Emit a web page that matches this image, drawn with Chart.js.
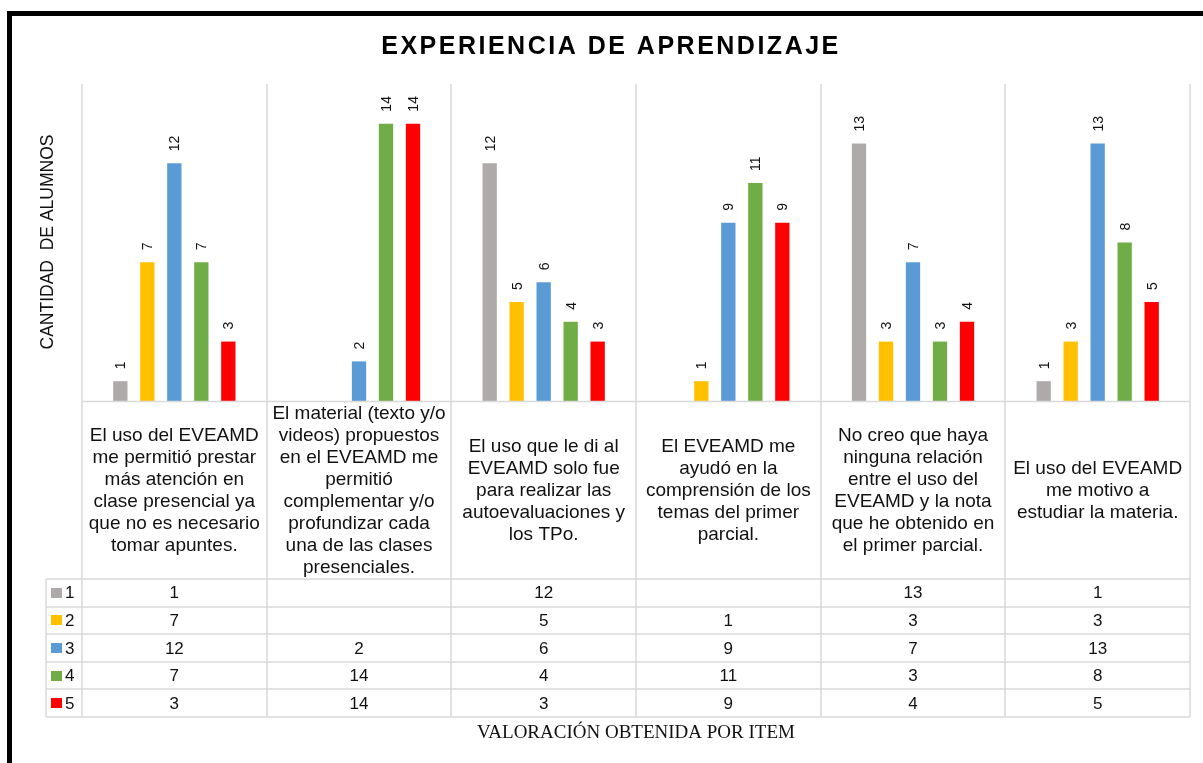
<!DOCTYPE html>
<html>
<head>
<meta charset="utf-8">
<script src="https://cdn.jsdelivr.net/npm/chart.js@4.4.0/dist/chart.umd.min.js"></script>
<style>
html,body{margin:0;padding:0;background:#ffffff;overflow:hidden}
#wrap{width:1203px;height:763px;position:relative}
canvas{display:block}
</style>
</head>
<body>
<div id="wrap"><canvas id="c" width="1203" height="763"></canvas></div>
<script>
// ---- DATA ----
const categories = [
  ["El uso del EVEAMD","me permitió prestar","más atención en","clase presencial ya","que no es necesario","tomar apuntes."],
  ["El material (texto y/o","videos) propuestos","en el EVEAMD me","permitió","complementar y/o","profundizar cada","una de las clases","presenciales."],
  ["El uso que le di al","EVEAMD solo fue","para realizar las","autoevaluaciones y","los TPo."],
  ["El EVEAMD me","ayudó en la","comprensión de los","temas del primer","parcial."],
  ["No creo que haya","ninguna relación","entre el uso del","EVEAMD y la nota","que he obtenido en","el primer parcial."],
  ["El uso del EVEAMD","me motivo a","estudiar la materia."]
];
const seriesNames = ["1","2","3","4","5"];
const serie1 = [1, null, 12, null, 13, 1];
const serie2 = [7, null, 5, 1, 3, 3];
const serie3 = [12, 2, 6, 9, 7, 13];
const serie4 = [7, 14, 4, 11, 3, 8];
const serie5 = [3, 14, 3, 9, 4, 5];
const chartTitle = "EXPERIENCIA DE APRENDIZAJE";
const yAxisTitle = "CANTIDAD  DE ALUMNOS";
const xAxisTitle = "VALORACIÓN OBTENIDA POR ITEM";
const yMin = 0, yMax = 16;

// ---- STYLES ----
const colors = ["#AEAAAA", "#FFC000", "#5B9BD5", "#70AD47", "#FF0000"];
const SANS = '"Liberation Sans", Arial, sans-serif';
const SERIF = '"Liberation Serif", "Times New Roman", serif';
const lineColor = "#d9d9d9";
const textColor = "#111111";

const allSeries = [serie1, serie2, serie3, serie4, serie5];

const decor = {
  id: 'decor',
  afterDraw(chart) {
    const ctx = chart.ctx;
    const xs = chart.scales.x;
    const ca = chart.chartArea;
    const n = categories.length;
    const step = xs.getPixelForValue(1) - xs.getPixelForValue(0);
    const bounds = [];
    for (let i = 0; i < n; i++) bounds.push(xs.getPixelForValue(i) - step / 2);
    bounds.push(xs.getPixelForValue(n - 1) + step / 2);

    const labelBottom = 579;
    const rowH = 27.6;
    const tableBottom = labelBottom + rowH * seriesNames.length;
    const legendLeft = 46;

    ctx.save();
    // grid / table lines
    ctx.strokeStyle = lineColor;
    ctx.lineWidth = 1.5;
    ctx.beginPath();
    bounds.forEach(b => {
      const x = Math.round(b);
      ctx.moveTo(x, ca.top);
      ctx.lineTo(x, tableBottom);
    });
    ctx.moveTo(legendLeft, labelBottom);
    ctx.lineTo(legendLeft, tableBottom);
    ctx.moveTo(bounds[0], Math.round(ca.bottom) + 0.5);
    ctx.lineTo(bounds[n], Math.round(ca.bottom) + 0.5);
    for (let r = 0; r <= seriesNames.length; r++) {
      const y = Math.round(labelBottom + r * rowH);
      ctx.moveTo(legendLeft, y);
      ctx.lineTo(bounds[n], y);
    }
    ctx.stroke();

    // category labels
    ctx.fillStyle = textColor;
    ctx.font = "19px " + SANS;
    ctx.textAlign = "center";
    ctx.textBaseline = "middle";
    const lh = 22;
    const midY = (ca.bottom + labelBottom) / 2;
    categories.forEach((lines, i) => {
      const cx = xs.getPixelForValue(i);
      const y0 = midY - (lines.length - 1) * lh / 2;
      lines.forEach((t, k) => ctx.fillText(t, cx, y0 + k * lh + 1));
    });

    // table values + legend keys
    ctx.font = "17px " + SANS;
    seriesNames.forEach((name, r) => {
      const cy = labelBottom + r * rowH + rowH / 2 + 1;
      ctx.fillStyle = colors[r];
      ctx.fillRect(51, Math.round(cy - 6), 11, 10);
      ctx.fillStyle = textColor;
      ctx.textAlign = "left";
      ctx.fillText(name, 65, cy);
      ctx.textAlign = "center";
      allSeries[r].forEach((v, i) => {
        if (v !== null && v !== undefined) ctx.fillText(String(v), xs.getPixelForValue(i), cy);
      });
    });

    // title
    ctx.fillStyle = "#000000";
    ctx.font = "bold 25px " + SANS;
    ctx.textAlign = "center";
    ctx.textBaseline = "alphabetic";
    try { ctx.letterSpacing = "2.5px"; } catch (e) {}
    ctx.fillText(chartTitle, 611, 54);
    try { ctx.letterSpacing = "0px"; } catch (e) {}

    // y axis title
    ctx.save();
    ctx.font = "18px " + SANS;
    ctx.fillStyle = textColor;
    const w = ctx.measureText(yAxisTitle).width;
    ctx.translate(48, 242);
    ctx.rotate(-Math.PI / 2);
    ctx.scale(215 / w, 1);
    ctx.textAlign = "center";
    ctx.textBaseline = "middle";
    ctx.fillText(yAxisTitle, 0, 0);
    ctx.restore();

    // x axis title
    ctx.font = "19px " + SERIF;
    ctx.fillStyle = textColor;
    ctx.textAlign = "center";
    ctx.textBaseline = "middle";
    ctx.fillText(xAxisTitle, (bounds[0] + bounds[n]) / 2, 733);

    // outer black frame (top and left)
    ctx.fillStyle = "#000000";
    ctx.fillRect(7, 11, 5, 752);
    ctx.fillRect(7, 11, 1196, 5);
    ctx.restore();
  },
  afterDatasetsDraw(chart) {
    const ctx = chart.ctx;
    ctx.save();
    ctx.font = "14px " + SANS;
    ctx.fillStyle = textColor;
    ctx.textAlign = "left";
    ctx.textBaseline = "alphabetic";
    chart.data.datasets.forEach((ds, d) => {
      const meta = chart.getDatasetMeta(d);
      meta.data.forEach((bar, i) => {
        const v = ds.data[i];
        if (v === null || v === undefined) return;
        ctx.save();
        ctx.translate(bar.x + 5, bar.y - 12);
        ctx.rotate(-Math.PI / 2);
        ctx.fillText(String(v), 0, 0);
        ctx.restore();
      });
    });
    ctx.restore();
  }
};

new Chart(document.getElementById('c'), {
  type: 'bar',
  data: {
    labels: categories.map(l => l.join(' ')),
    datasets: allSeries.map((s, k) => ({
      label: seriesNames[k],
      data: s,
      backgroundColor: colors[k],
      borderWidth: 0,
      categoryPercentage: 0.731,
      barPercentage: 0.53
    }))
  },
  options: {
    responsive: false,
    animation: false,
    devicePixelRatio: 1,
    layout: { padding: { left: 82, right: 13, top: 84, bottom: 362 } },
    scales: {
      x: { display: false },
      y: { display: false, min: yMin, max: yMax }
    },
    plugins: {
      legend: { display: false },
      tooltip: { enabled: false },
      title: { display: false }
    }
  },
  plugins: [decor]
});
</script>
</body>
</html>
